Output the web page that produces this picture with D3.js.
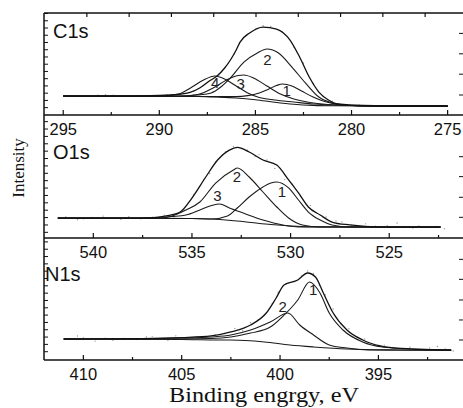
<!DOCTYPE html>
<html>
<head>
<meta charset="utf-8">
<script src="https://cdn.jsdelivr.net/npm/d3@7"></script>
<style>
  body { margin: 0; background: #fff; }
  svg { display: block; }
</style>
</head>
<body>
<div id="chart"></div>
<script>
const svgWidth = 463;
const svgHeight = 408;

// ---------- C1s (binding energy eV, intensity a.u.) ----------
const c1sTicks = [295, 290, 285, 280, 275];
const c1sEnvelope = [[295,18.6],[292,18.6],[290,19.1],[289,20.1],[288.4,22.1],[287.9,26.5],[287.4,33.3],[287,38.2],[286.6,46.1],[286.3,53.9],[286,63.7],[285.8,71.5],[285.3,80.4],[284.6,86.2],[283.9,84.3],[283.2,73.5],[282.7,56.8],[282.2,37.2],[281.7,22.5],[281.2,14.7],[280.7,10.8],[279.4,9.3],[277,8.8],[275,8.8]];
const c1sPeak1 = [[295,18.6],[288,18.2],[287,18.0],[286,18.0],[285.4,19.0],[284.8,21.6],[284.3,25.5],[283.9,28.9],[283.6,30.4],[283.1,28.4],[282.6,23.5],[282,17.6],[281.4,13.2],[280.7,10.3],[279.5,9.0],[278,8.8],[275,8.7]];
const c1sPeak2 = [[295,18.6],[290,18.5],[289,18.5],[288,19.6],[287.3,21.6],[286.8,27.4],[286.3,36.3],[285.6,51.9],[284.9,60.8],[284.4,64.7],[283.8,60.8],[283.1,47],[282.4,31.4],[281.7,17.6],[281,11.8],[280,9.3],[279,8.8],[275,8.7]];
const c1sPeak3 = [[295,18.6],[289,18.3],[288,20.1],[287.2,26.5],[286.5,34.3],[285.9,38.7],[285.6,39.2],[285.1,36.3],[284.4,28.4],[283.7,20.6],[283,15.7],[282.3,12.7],[281.5,10.8],[280,9.3],[279,8.8],[275,8.7]];
const c1sPeak4 = [[295,18.6],[290,18.7],[289,20.6],[288.3,27.4],[287.7,34.3],[287.1,38.2],[286.6,35.3],[286,28.4],[285.4,21.6],[284.8,17.2],[284,14.7],[283,12.7],[282,10.8],[280,9.3],[279,8.8],[275,8.7]];
const c1sBackground = [[295,18.6],[290,18.5],[288,18.2],[287,17.6],[286,16.7],[285,15.0],[284,12.5],[283,10.5],[282,9.4],[281,9.0],[279,8.8],[275,8.7]];
const c1sDots = [[293.2,19.5],[292.8,19.8],[292.4,19.3],[291.0,19.0],[289.6,19.9],[288.2,23.5],[286.9,39],[286.1,60],[285.5,78],[285.0,84],[284.6,87.5],[284.2,86.8],[283.6,81.5],[283.0,66.5],[282.5,51],[282.0,31],[281.5,19],[281.0,13.5],[280.4,10.2],[279.6,9.5],[278.5,9.0],[277.2,8.7],[276.0,8.9]];
const c1sLabels = [["1",283.38,18.6],["2",284.37,49],["3",285.77,25.5],["4",287.09,26.5]];
const c1sTopTicks = [293.77, 291.57, 289.37, 287.17, 284.97, 282.77, 280.57, 278.37, 276.17];

// ---------- O1s ----------
const o1sTicks = [540, 535, 530, 525];
const o1sEnvelope = [[541.8,16.3],[537.1,16.3],[536.3,17.9],[535.6,21.1],[535.0,32.5],[534.3,49.6],[533.7,63.4],[533.1,71.5],[532.7,73.6],[532.1,69.9],[531.4,63.4],[530.7,59.3],[530.1,47.2],[529.6,36.6],[529.1,25.2],[528.5,18.7],[527.9,13.0],[527,10.6],[525.5,8.9],[522.4,8.9]];
const o1sPeak1 = [[541.8,16.0],[535,15.9],[534,15.4],[533.2,17.9],[532.7,24.4],[532.1,33.3],[531.4,41.5],[531.0,44.7],[530.7,45.5],[530.1,40.7],[529.6,30.9],[529.1,21.1],[528.5,14.6],[527.9,10.6],[527,8.9],[522.4,8.9]];
const o1sPeak2 = [[541.8,16.0],[537.5,16.1],[536.6,16.3],[536.0,17.9],[535.3,22.8],[534.6,29.3],[533.8,44.7],[532.9,55.3],[532.7,56.9],[532.1,49.6],[531.4,37.4],[530.7,25.2],[530.1,16.3],[529.4,10.6],[528.5,8.9],[522.4,8.9]];
const o1sPeak3 = [[541.8,16.0],[538,16.1],[537,16.7],[536,17.5],[535.3,18.7],[534.6,22.8],[534.0,26.4],[533.6,27.6],[533.1,24.4],[532.4,20.3],[531.4,14.6],[530.4,10.6],[529.4,8.9],[522.4,8.9]];
const o1sBackground = [[541.8,16.0],[535,15.9],[534,15.4],[533,14.2],[532,12.6],[531,11.0],[530,9.8],[529,9.1],[527,8.9],[522.4,8.9]];
const o1sDots = [[541.4,17.2],[540.8,14.9],[540.5,15.7],[540.1,16.8],[539.5,17.8],[539.2,16.5],[538.6,15.1],[538.2,17.4],[537.6,15.6],[537.0,16.9],[536.4,18.6],[535.9,17.2],[535.4,22.8],[534.9,35.5],[534.4,47.5],[534.1,52.5],[533.8,62],[533.3,70],[532.9,74.5],[532.5,72.5],[532.2,71.6],[531.8,66.5],[531.6,67.8],[531.2,63.5],[530.8,56.5],[530.3,47.5],[529.9,43.8],[529.5,34.2],[529.0,26.5],[528.7,20.8],[528.2,17.1],[527.7,13.8],[527.4,13.0],[526.9,10.4],[526.2,11.5],[525.7,9.6],[525.1,10.1],[524.6,12.2],[524.2,9.3],[523.8,8.1],[523.5,9.8],[523.1,8.5],[522.6,9.3],[522.2,7.6]];
const o1sLabels = [["1",530.44,33.3],["2",532.72,45.5],["3",533.71,30.1]];

// ---------- N1s ----------
const n1sTicks = [410, 405, 400, 395];
const n1sEnvelope = [[411,17.2],[407,17.6],[405,18.4],[403.5,19.7],[402.5,23],[401.5,28.7],[400.7,38.5],[400.2,50.8],[399.8,61.5],[399.1,65.6],[398.6,71.3],[398.2,68],[397.8,54.9],[397.3,38.5],[396.6,24.6],[395.8,16.4],[394.9,11.5],[394.1,9.8],[391.3,8.2]];
const n1sPeak1 = [[411,17.2],[405,17.2],[403.5,17.6],[402.5,18.9],[401.5,22.1],[400.5,27],[399.9,35.2],[399.1,49.2],[398.5,63.9],[397.97,54.9],[397.5,38.5],[396.8,24.6],[395.8,14.8],[394.8,10.7],[393.2,9.0],[391.3,8.2]];
const n1sPeak2 = [[411,17.2],[407,17.3],[405,18],[403.5,18.9],[402.5,20.5],[401.5,24.6],[400.5,31.1],[399.6,38.5],[399.0,28.7],[398.3,20.5],[397.5,12.3],[396.6,9.8],[395.5,8.2],[391.3,8.0]];
const n1sBackground = [[411,17.2],[405,16.8],[403,16.4],[402.5,16.4],[400.8,14.8],[399.5,12.3],[398.3,10.7],[396.6,9.0],[394,8.2],[391.3,7.8]];
const n1sDots = [[410.7,16.8],[410.3,19.7],[410.0,18.1],[409.7,17.3],[409.4,15.5],[408.9,17.9],[408.5,16.2],[407.9,17.6],[407.3,16.8],[406.8,18.8],[406.5,19.4],[406.0,16.9],[405.7,16.1],[405.3,19.8],[404.8,17.5],[404.2,18.4],[403.8,17.7],[403.3,20.6],[402.8,21.5],[402.3,25.8],[401.9,24.0],[401.5,30.5],[401.1,33.0],[400.8,37.0],[400.4,46.2],[400.1,55.5],[399.7,62.5],[399.3,64.0],[398.9,68.8],[398.6,73.0],[398.3,70.9],[398.0,61.2],[397.7,53.5],[397.3,41.8],[396.9,29.5],[396.5,25.6],[396.1,19.1],[395.7,17.2],[395.2,12.8],[394.7,12.2],[394.3,10.1],[393.8,9.1],[393.4,10.4],[392.9,8.6],[392.4,9.9],[392.0,11.1],[391.6,9.0],[391.2,7.4]];
const n1sLabels = [["1",398.32,53.3],["2",399.87,39.3]];

// panel layout
const frameLeft = 44, frameRight = 463;
const sans = "'Liberation Sans', Arial, sans-serif";
const serif = "'Liberation Serif', 'Times New Roman', serif";
const panels = [
  {name: "C1s", nameX: 53, nameY: 38, top: 13, bottom: 115, eRange: [296.0, 274.2],
   ticks: c1sTicks, envelope: c1sEnvelope, peaks: [c1sPeak1, c1sPeak2, c1sPeak3, c1sPeak4],
   bg: c1sBackground, dots: c1sDots, labels: c1sLabels,
   leftTicks: d3.range(7.2, 100, 7.1), rightTicks: [19.6, 40, 60, 80], topTicks: c1sTopTicks},
  {name: "O1s", nameX: 53, nameY: 159, top: 115, bottom: 238, eRange: [542.5, 521.26],
   ticks: o1sTicks, envelope: o1sEnvelope, peaks: [o1sPeak1, o1sPeak2, o1sPeak3],
   bg: o1sBackground, dots: o1sDots, labels: o1sLabels,
   leftTicks: d3.range(4.6, 99, 6.0), rightTicks: [16.8, 33.1, 49.9, 66.1], topTicks: []},
  {name: "N1s", nameX: 45, nameY: 281, top: 238, bottom: 360, eRange: [412.0, 390.7],
   ticks: n1sTicks, envelope: n1sEnvelope, peaks: [n1sPeak1, n1sPeak2],
   bg: n1sBackground, dots: n1sDots, labels: n1sLabels,
   leftTicks: d3.range(6.8, 99, 6.0), rightTicks: [16.4, 32.8, 49.2, 66.1, 82.5], topTicks: []}
];

const svg = d3.select("#chart")
  .append("svg")
  .attr("width", svgWidth)
  .attr("height", svgHeight)
  .style("font-family", sans);

svg.append("rect").attr("width", svgWidth).attr("height", svgHeight).attr("fill", "#fff");

panels.forEach(p => {
  const x = d3.scaleLinear().domain(p.eRange).range([frameLeft, frameRight]);
  const y = d3.scaleLinear().domain([0, 100]).range([p.bottom, p.top]);
  const line = d3.line().x(d => x(d[0])).y(d => y(d[1])).curve(d3.curveMonotoneX);

  const g = svg.append("g");

  // raw data points
  g.selectAll(".dot")
    .data(p.dots)
    .enter()
    .append("circle")
    .attr("class", "dot")
    .attr("cx", d => x(d[0]))
    .attr("cy", d => y(d[1]))
    .attr("r", 0.7)
    .attr("fill", "#999");

  // background + fitted components
  g.append("path").datum(p.bg)
    .attr("d", line).attr("fill", "none").attr("stroke", "#1a1a1a").attr("stroke-width", 1.1);
  p.peaks.forEach(pk => {
    g.append("path").datum(pk)
      .attr("d", line).attr("fill", "none").attr("stroke", "#1a1a1a").attr("stroke-width", 1.1);
  });
  g.append("path").datum(p.envelope)
    .attr("d", line).attr("fill", "none").attr("stroke", "#111").attr("stroke-width", 1.3);

  // peak numbers
  g.selectAll(".lbl")
    .data(p.labels)
    .enter()
    .append("text")
    .attr("class", "lbl")
    .attr("x", d => x(d[1]))
    .attr("y", d => y(d[2]))
    .attr("text-anchor", "middle")
    .attr("font-size", 15)
    .attr("fill", "#222")
    .text(d => d[0]);

  // bottom axis: major + minor ticks pointing up
  const minor = p.ticks.map(t => t - 2.5).filter(t => t > p.eRange[1]);
  g.selectAll(".maj")
    .data(p.ticks)
    .enter()
    .append("line")
    .attr("x1", d => x(d)).attr("x2", d => x(d))
    .attr("y1", p.bottom).attr("y2", p.bottom - 5)
    .attr("stroke", "#111").attr("stroke-width", 1.2);
  g.selectAll(".min")
    .data(minor)
    .enter()
    .append("line")
    .attr("x1", d => x(d)).attr("x2", d => x(d))
    .attr("y1", p.bottom).attr("y2", p.bottom - 3)
    .attr("stroke", "#111").attr("stroke-width", 1.2);
  g.selectAll(".tl")
    .data(p.ticks)
    .enter()
    .append("text")
    .attr("x", d => x(d))
    .attr("y", p.bottom + 20)
    .attr("text-anchor", "middle")
    .attr("font-size", 16.5)
    .attr("fill", "#111")
    .text(d => d);

  // top ticks (first panel only)
  g.selectAll(".tt")
    .data(p.topTicks)
    .enter()
    .append("line")
    .attr("x1", d => x(d)).attr("x2", d => x(d))
    .attr("y1", p.top).attr("y2", p.top + 4)
    .attr("stroke", "#111").attr("stroke-width", 1.2);

  // left and right intensity ticks
  g.selectAll(".lt")
    .data(p.leftTicks)
    .enter()
    .append("line")
    .attr("x1", frameLeft).attr("x2", frameLeft + 4)
    .attr("y1", d => y(d)).attr("y2", d => y(d))
    .attr("stroke", "#111").attr("stroke-width", 1);
  g.selectAll(".rt")
    .data(p.rightTicks)
    .enter()
    .append("line")
    .attr("x1", frameRight - 4).attr("x2", frameRight)
    .attr("y1", d => y(d)).attr("y2", d => y(d))
    .attr("stroke", "#111").attr("stroke-width", 1);

  // frame line under the panel
  g.append("line")
    .attr("x1", frameLeft).attr("x2", frameRight)
    .attr("y1", p.bottom).attr("y2", p.bottom)
    .attr("stroke", "#111").attr("stroke-width", 1.5);

  g.append("text")
    .attr("x", p.nameX)
    .attr("y", p.nameY)
    .attr("font-size", 20)
    .attr("fill", "#111")
    .text(p.name);
});

// outer frame: top and left
svg.append("line")
  .attr("x1", frameLeft).attr("x2", frameRight)
  .attr("y1", panels[0].top).attr("y2", panels[0].top)
  .attr("stroke", "#111").attr("stroke-width", 1.5);
svg.append("line")
  .attr("x1", frameLeft).attr("x2", frameLeft)
  .attr("y1", panels[0].top).attr("y2", panels[2].bottom)
  .attr("stroke", "#111").attr("stroke-width", 1.5);

// axis titles
svg.append("text")
  .attr("transform", "translate(24,168) rotate(-90)")
  .attr("text-anchor", "middle")
  .attr("font-family", serif)
  .attr("font-size", 17)
  .attr("fill", "#111")
  .text("Intensity");

svg.append("text")
  .attr("x", 264)
  .attr("y", 402)
  .attr("text-anchor", "middle")
  .attr("font-family", serif)
  .attr("font-size", 20)
  .attr("textLength", 190)
  .attr("lengthAdjust", "spacingAndGlyphs")
  .attr("fill", "#111")
  .text("Binding engrgy, eV");
</script>
</body>
</html>
